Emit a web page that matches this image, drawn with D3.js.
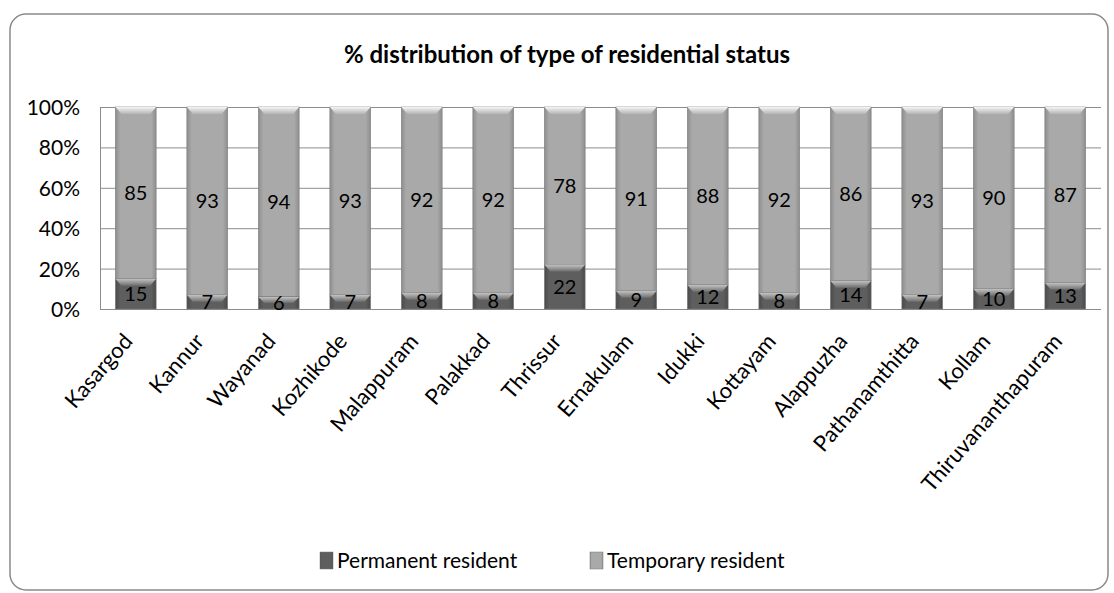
<!DOCTYPE html>
<html>
<head>
<meta charset="utf-8">
<script src="https://cdn.jsdelivr.net/npm/d3@7"></script>
<style>
  body { margin: 0; background: #fff; }
  svg text { font-family: Lato, "Open Sans", sans-serif; fill: #000; }
</style>
</head>
<body>
<script>
const districts = ['Kasargod', 'Kannur', 'Wayanad', 'Kozhikode', 'Malappuram', 'Palakkad', 'Thrissur',
  'Ernakulam', 'Idukki', 'Kottayam', 'Alappuzha', 'Pathanamthitta', 'Kollam', 'Thiruvananthapuram']
const permanent = [15, 7, 6, 7, 8, 8, 22, 9, 12, 8, 14, 7, 10, 13]
const temporary = [85, 93, 94, 93, 92, 92, 78, 91, 88, 92, 86, 93, 90, 87]
const seriesNames = ['Permanent resident', 'Temporary resident']
const yTicks = [0, 20, 40, 60, 80, 100]

const WIDTH = 1114
const HEIGHT = 593
const PLOT_LEFT = 100
const PLOT_RIGHT = 1101
const PLOT_TOP = 107
const PLOT_BOTTOM = 309

const svg = d3.select('body').append('svg').attr('width', WIDTH).attr('height', HEIGHT)

// gradients pour l'effet biseau
const defs = svg.append('defs')
function hGrad(id, edge, mid) {
  const g = defs.append('linearGradient').attr('id', id).attr('x1', 0).attr('x2', 1).attr('y1', 0).attr('y2', 0)
  g.append('stop').attr('offset', '0%').attr('stop-color', edge)
  g.append('stop').attr('offset', '12%').attr('stop-color', mid)
  g.append('stop').attr('offset', '88%').attr('stop-color', mid)
  g.append('stop').attr('offset', '100%').attr('stop-color', edge)
}
function vGrad(id, top, bottom) {
  const g = defs.append('linearGradient').attr('id', id).attr('x1', 0).attr('x2', 0).attr('y1', 0).attr('y2', 1)
  g.append('stop').attr('offset', '0%').attr('stop-color', top)
  g.append('stop').attr('offset', '100%').attr('stop-color', bottom)
}
hGrad('tempBody', '#8e8e8e', '#a9a9a9')
hGrad('permBody', '#4a4a4a', '#5e5e5e')
vGrad('tempTop', '#f6f6f6', '#b4b4b4')
vGrad('permTop', '#c4c4c4', '#6e6e6e')

// cadre du graphique
svg.append('rect')
  .attr('x', 10).attr('y', 14).attr('width', 1098).attr('height', 576)
  .attr('rx', 16).attr('fill', '#fff').attr('stroke', '#8a8a8a').attr('stroke-width', 1.5)

svg.append('text')
  .attr('x', 567).attr('y', 63)
  .attr('text-anchor', 'middle')
  .attr('font-size', 24).attr('font-weight', 'bold')
  .text('% distribution of type of residential status')

const x = d3.scaleBand().domain(districts).range([PLOT_LEFT, PLOT_RIGHT]).paddingInner(0.43).paddingOuter(0.215)
const y = d3.scaleLinear().domain([0, 100]).range([PLOT_BOTTOM, PLOT_TOP])

// grille
svg.append('g').selectAll('line').data(yTicks).enter().append('line')
  .attr('x1', PLOT_LEFT).attr('x2', PLOT_RIGHT)
  .attr('y1', d => y(d) + 0.5).attr('y2', d => y(d) + 0.5)
  .attr('stroke', '#8c8c8c').attr('stroke-width', 1)
svg.append('line')
  .attr('x1', PLOT_LEFT + 0.5).attr('x2', PLOT_LEFT + 0.5)
  .attr('y1', PLOT_TOP).attr('y2', PLOT_BOTTOM + 1)
  .attr('stroke', '#8c8c8c')

const axisY = d3.axisLeft(y).tickValues(yTicks).tickFormat(d => d + '%').tickSize(0).tickPadding(0)
const gy = svg.append('g').attr('transform', `translate(${PLOT_LEFT - 20}, 0)`).call(axisY)
gy.select('.domain').remove()
gy.selectAll('text').attr('font-size', 21).attr('font-family', 'Lato, sans-serif').attr('dy', '0.36em')

const data = districts.map((d, i) => ({ name: d, perm: permanent[i], temp: temporary[i] }))
const bw = x.bandwidth()
const BEV = 7

function segment(g, x0, yTop, yBot, body, top) {
  g.append('rect').attr('x', x0).attr('y', yTop).attr('width', bw).attr('height', yBot - yTop)
    .attr('fill', `url(#${body})`).attr('stroke', '#7a7a7a').attr('stroke-width', 0.6)
  const h = Math.min(BEV, (yBot - yTop) / 2)
  g.append('path')
    .attr('d', `M${x0},${yTop} L${x0 + bw},${yTop} L${x0 + bw - 6},${yTop + h} L${x0 + 6},${yTop + h} Z`)
    .attr('fill', `url(#${top})`)
}

const bars = svg.append('g')
data.forEach(d => {
  const x0 = x(d.name)
  const g = bars.append('g')
  segment(g, x0, y(d.perm + d.temp), y(d.perm), 'tempBody', 'tempTop')
  segment(g, x0, y(d.perm), y(0), 'permBody', 'permTop')
  g.append('text')
    .attr('x', x0 + bw / 2).attr('y', y(d.perm + d.temp / 2))
    .attr('dy', '0.36em').attr('text-anchor', 'middle').attr('font-size', 20)
    .text(d.temp)
  g.append('text')
    .attr('x', x0 + bw / 2).attr('y', y(d.perm / 2))
    .attr('dy', '0.36em').attr('text-anchor', 'middle').attr('font-size', 20)
    .text(d.perm)
})

// noms des districts
svg.append('g').selectAll('text').data(districts).enter().append('text')
  .attr('text-anchor', 'end').attr('font-size', 22)
  .attr('transform', d => `translate(${x(d) + bw / 2 - 2}, 342) rotate(-49)`)
  .text(d => d)

// légende
const legendX = [320, 590]
const legend = svg.append('g')
seriesNames.forEach((s, i) => {
  legend.append('rect').attr('x', legendX[i]).attr('y', 552).attr('width', 13).attr('height', 17)
    .attr('fill', i === 0 ? 'url(#permBody)' : 'url(#tempBody)').attr('stroke', '#777').attr('stroke-width', 0.5)
  legend.append('text').attr('x', legendX[i] + 17).attr('y', 568).attr('font-size', 21).text(s)
})
</script>
</body>
</html>
